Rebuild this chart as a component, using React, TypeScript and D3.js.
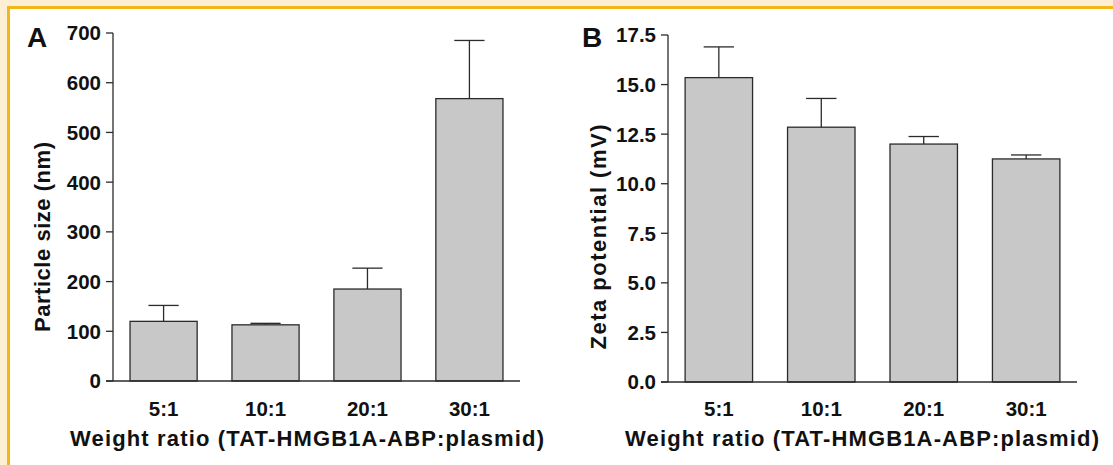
import React from "react";
import * as d3 from "d3";

const categories = ["5:1", "10:1", "20:1", "30:1"];
const sizeValues = [120, 113, 185, 568];
const sizeErrors = [32, 3, 42, 117];
const zetaValues = [15.35, 12.85, 12.0, 11.25];
const zetaErrors = [1.55, 1.45, 0.38, 0.2];
const sizeTicks = [0, 100, 200, 300, 400, 500, 600, 700];
const zetaTicks = [0, 2.5, 5, 7.5, 10, 12.5, 15, 17.5];
const xTitle = "Weight ratio (TAT-HMGB1A-ABP:plasmid)";

const FONT = "'Liberation Sans', Arial, Helvetica, sans-serif";
const INK = "#2b2b2b";

type PanelProps = {
  letter: string;
  letterX: number;
  values: number[];
  errors: number[];
  ticks: number[];
  fmt: (v: number) => string;
  yMax: number;
  x0: number;
  x1: number;
  yTop: number;
  yBottom: number;
  yTitle: string;
  yTitleX: number;
  yTitleLen: number;
  xTitleX: number;
};

function Panel(p: PanelProps) {
  const x = d3
    .scaleBand<string>()
    .domain(categories)
    .range([p.x0, p.x1])
    .paddingInner(0.3415)
    .paddingOuter(0.167);
  const y = d3.scaleLinear().domain([0, p.yMax]).range([p.yBottom, p.yTop]);
  const bw = x.bandwidth();
  const cap = bw * 0.45;
  const yMid = 237;
  return (
    <g>
      <text x={p.letterX} y={47} fontFamily={FONT} fontWeight="bold" fontSize={28} fill="#111">
        {p.letter}
      </text>
      {categories.map((c, i) => {
        const cx = (x(c) as number) + bw / 2;
        const top = y(p.values[i]);
        const et = y(p.values[i] + p.errors[i]);
        return (
          <g key={c}>
            <line x1={cx} x2={cx} y1={top} y2={et} stroke={INK} strokeWidth={1.3} />
            <line x1={cx - cap / 2} x2={cx + cap / 2} y1={et} y2={et} stroke={INK} strokeWidth={1.3} />
            <rect
              x={x(c)}
              y={top}
              width={bw}
              height={p.yBottom - top}
              fill="#c8c8c8"
              stroke={INK}
              strokeWidth={1.3}
            />
          </g>
        );
      })}
      <line x1={p.x0} x2={p.x0} y1={p.yTop} y2={p.yBottom} stroke={INK} strokeWidth={1.3} />
      <line x1={p.x0 - 7} x2={p.x1} y1={p.yBottom} y2={p.yBottom} stroke={INK} strokeWidth={1.3} />
      {p.ticks.map((t) => (
        <g key={t}>
          <line x1={p.x0 - 7} x2={p.x0} y1={y(t)} y2={y(t)} stroke={INK} strokeWidth={1.3} />
          <text
            x={p.x0 - 12}
            y={y(t)}
            dy="0.36em"
            textAnchor="end"
            fontFamily={FONT}
            fontWeight="bold"
            fontSize={20.5}
            fill="#111"
          >
            {p.fmt(t)}
          </text>
        </g>
      ))}
      {categories.map((c) => (
        <text
          key={c}
          x={(x(c) as number) + bw / 2}
          y={416}
          textAnchor="middle"
          fontFamily={FONT}
          fontWeight="bold"
          fontSize={20.5}
          fill="#111"
        >
          {c}
        </text>
      ))}
      <text
        x={p.xTitleX}
        y={446}
        textAnchor="middle"
        fontFamily={FONT}
        fontWeight="bold"
        fontSize={22}
        fill="#111"
        textLength={474}
        lengthAdjust="spacing"
      >
        {xTitle}
      </text>
      <text
        transform={`translate(${p.yTitleX},${yMid}) rotate(-90)`}
        textAnchor="middle"
        fontFamily={FONT}
        fontWeight="bold"
        fontSize={22}
        fill="#111"
        textLength={p.yTitleLen}
        lengthAdjust="spacing"
      >
        {p.yTitle}
      </text>
    </g>
  );
}

export default function App() {
  return (
    <svg
      width={1113}
      height={465}
      style={{ position: "absolute", left: 0, top: 0, display: "block" }}
    >
      <rect x={0} y={0} width={1113} height={465} fill="#fcefd4" />
      <rect x={7} y={6} width={1106} height={459} fill="#f4b61a" />
      <rect x={10} y={9} width={1103} height={456} fill="#ffffff" />
      <Panel
        letter="A"
        letterX={27}
        values={sizeValues}
        errors={sizeErrors}
        ticks={sizeTicks}
        fmt={(v) => d3.format("d")(v)}
        yMax={700}
        x0={113}
        x1={520}
        yTop={33}
        yBottom={381}
        yTitle="Particle size (nm)"
        yTitleX={50}
        yTitleLen={190}
        xTitleX={307}
      />
      <Panel
        letter="B"
        letterX={582}
        values={zetaValues}
        errors={zetaErrors}
        ticks={zetaTicks}
        fmt={(v) => d3.format(".1f")(v)}
        yMax={17.5}
        x0={668}
        x1={1077}
        yTop={35}
        yBottom={382}
        yTitle="Zeta potential (mV)"
        yTitleX={606}
        yTitleLen={225}
        xTitleX={862}
      />
    </svg>
  );
}
